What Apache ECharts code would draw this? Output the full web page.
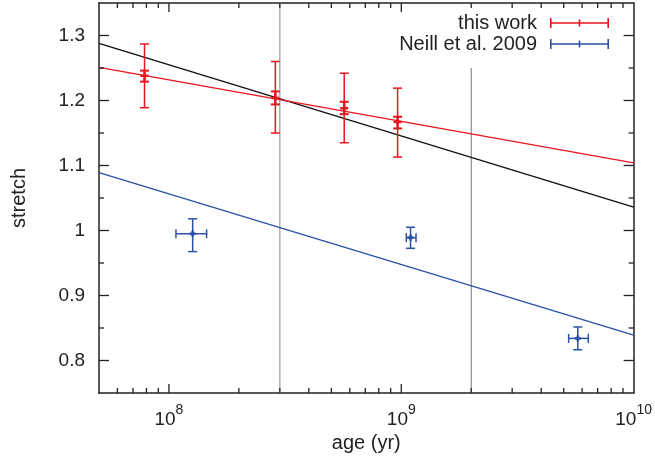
<!DOCTYPE html>
<html><head><meta charset="utf-8">
<script src="https://cdn.jsdelivr.net/npm/echarts@6/dist/echarts.min.js"></script>
<style>html,body{margin:0;padding:0;background:#fff}#c{width:655px;height:459px}</style>
</head><body><div id="c"></div>
<script>
// ---- data ----
const fitAges = [5e7, 1e10];
const fitBlack = [1.288, 1.036];
const fitRed = [1.251, 1.104];
const fitBlue = [1.089, 0.839];
const refAges = [3e8, 2e9];
const refBottom = [0.75, 0.75];
const refTop = [1.35, 1.25];
// this work
const workAge = [7.85e7, 2.87e8, 5.68e8, 9.64e8];
const workStretch = [1.238, 1.204, 1.188, 1.167];
const workBigLo = [1.189, 1.150, 1.135, 1.113];
const workBigHi = [1.287, 1.260, 1.242, 1.219];
const workSmallLo = [1.229, 1.194, 1.179, 1.157];
const workSmallHi = [1.246, 1.214, 1.198, 1.175];
// Neill et al. 2009
const neillAge = [1.265e8, 1.096e9, 5.75e9];
const neillAgeLo = [1.072e8, 1.051e9, 5.25e9];
const neillAgeHi = [1.452e8, 1.157e9, 6.38e9];
const neillStretch = [0.995, 0.989, 0.834];
const neillLo = [0.9675, 0.9726, 0.8165];
const neillHi = [1.018, 1.005, 0.8516];
// ticks
const xMajorTicks = [1e8, 1e9];
const xMinorTicks = [6e7, 7e7, 8e7, 9e7, 2e8, 3e8, 4e8, 5e8, 6e8, 7e8, 8e8, 9e8, 2e9, 3e9, 4e9, 5e9, 6e9, 7e9, 8e9, 9e9];
const xLabelTicks = [1e8, 1e9, 1e10];
const yMajorTicks = [0.8, 0.9, 1.0, 1.1, 1.2, 1.3];
const yMinorTicks = [0.85, 0.95, 1.05, 1.15, 1.25];

const X_MIN = 5e7, X_MAX = 1e10, Y_MIN = 0.75, Y_MAX = 1.35;
const RED = '#e8161d', BLUE = '#2c50a4', TXT = '#222';
const FONT = 'Liberation Sans';

const chart = echarts.init(document.getElementById('c'), null, {renderer: 'canvas'});

function pair(xs, ys) { return xs.map((x, i) => [x, ys[i]]); }

const workData = workAge.map((a, i) => [a, workStretch[i], workBigLo[i], workBigHi[i], workSmallLo[i], workSmallHi[i]]);
const neillData = neillAge.map((a, i) => [a, neillStretch[i], neillAgeLo[i], neillAgeHi[i], neillLo[i], neillHi[i]]);

function seg(x1, y1, x2, y2, stroke, w) {
  return {type: 'line', shape: {x1, y1, x2, y2}, style: {stroke, lineWidth: w}};
}

const xTickData = xMajorTicks.map(v => [v, 9]).concat(xMinorTicks.map(v => [v, 5]));
const yTickData = yMajorTicks.map(v => [v, 10]).concat(yMinorTicks.map(v => [v, 5]));

const legendIcon = 'path://M0,4.2h59v1.6h-59z M0,0h1.6v10h-1.6z M57.4,0h1.6v10h-1.6z M28.7,1.5h1.6v7h-1.6z';

const option = {
  animation: false,
  backgroundColor: '#fff',
  textStyle: {fontFamily: FONT},
  grid: {left: 99, right: 21, top: 3, bottom: 66},
  legend: {
    show: true, orient: 'vertical', right: 46, top: 13, align: 'right', padding: 0,
    itemWidth: 59, itemHeight: 10, itemGap: 1, selectedMode: false,
    textStyle: {fontSize: 20, color: TXT, fontFamily: FONT, lineHeight: 19, padding: [0, 8, 0, 0]},
    data: [
      {name: 'this work', icon: legendIcon, itemStyle: {color: RED, borderWidth: 0}},
      {name: 'Neill et al. 2009', icon: legendIcon, itemStyle: {color: BLUE, borderWidth: 0}}
    ]
  },
  xAxis: [{
    type: 'log', logBase: 10, min: X_MIN, max: X_MAX, position: 'bottom',
    axisLine: {show: true, lineStyle: {color: TXT, width: 1.5}},
    axisTick: {show: false}, splitLine: {show: false}, minorTick: {show: false},
    axisLabel: {
      show: true, margin: 10, hideOverlap: false, showMinLabel: false, showMaxLabel: true,
      formatter: function (v) {
        const e = Math.round(Math.log10(v));
        if (Math.abs(v / Math.pow(10, e) - 1) > 1e-6) return '';
        if (!xLabelTicks.some(t => Math.abs(t / v - 1) < 1e-6)) return '';
        return '{b|10}{s|' + e + '}';
      },
      rich: {
        b: {fontSize: 19, lineHeight: 26, verticalAlign: 'bottom', color: TXT, fontFamily: FONT},
        s: {fontSize: 14, lineHeight: 13, verticalAlign: 'top', color: TXT, fontFamily: FONT}
      }
    },
    name: 'age (yr)', nameLocation: 'middle', nameGap: 38,
    nameTextStyle: {fontSize: 20, color: TXT, fontFamily: FONT}
  }, {
    type: 'log', logBase: 10, min: X_MIN, max: X_MAX, position: 'top',
    axisLine: {show: true, lineStyle: {color: TXT, width: 1.5}},
    axisTick: {show: false}, splitLine: {show: false}, axisLabel: {show: false}
  }],
  yAxis: [{
    type: 'value', min: Y_MIN, max: Y_MAX, interval: 0.05, position: 'left',
    axisLine: {show: true, lineStyle: {color: TXT, width: 1.5}},
    axisTick: {show: false}, splitLine: {show: false},
    axisLabel: {
      show: true, margin: 14, fontSize: 19, color: TXT, fontFamily: FONT,
      formatter: function (v) {
        const t = Math.round(v * 10) / 10;
        if (!yMajorTicks.some(m => Math.abs(m - v) < 1e-6)) return '';
        return String(t);
      }
    },
    name: 'stretch', nameLocation: 'middle', nameGap: 70,
    nameTextStyle: {fontSize: 20, color: TXT, fontFamily: FONT}
  }, {
    type: 'value', min: Y_MIN, max: Y_MAX, interval: 0.05, position: 'right',
    axisLine: {show: true, lineStyle: {color: TXT, width: 1.5}},
    axisTick: {show: false}, splitLine: {show: false}, axisLabel: {show: false}
  }],
  series: [
    {type: 'line', silent: true, symbol: 'none', z: 1, data: [[refAges[0], refBottom[0]], [refAges[0], refTop[0]]], lineStyle: {color: '#b0b0b0', width: 1.5}},
    {type: 'line', silent: true, symbol: 'none', z: 1, data: [[refAges[1], refBottom[1]], [refAges[1], refTop[1]]], lineStyle: {color: '#777', width: 1}},
    {type: 'line', silent: true, symbol: 'none', z: 2, data: pair(fitAges, fitBlack), lineStyle: {color: '#111', width: 1.4}},
    {type: 'line', silent: true, symbol: 'none', z: 2, data: pair(fitAges, fitRed), lineStyle: {color: RED, width: 1.4}},
    {type: 'line', silent: true, symbol: 'none', z: 2, data: pair(fitAges, fitBlue), lineStyle: {color: BLUE, width: 1.4}},
    {
      name: 'this work', type: 'custom', z: 3, itemStyle: {color: RED},
      encode: {x: 0, y: 1}, data: workData,
      renderItem: function (params, api) {
        const x = api.value(0);
        const c = api.coord([x, api.value(1)]);
        const bl = api.coord([x, api.value(2)]), bh = api.coord([x, api.value(3)]);
        const sl = api.coord([x, api.value(4)]), sh = api.coord([x, api.value(5)]);
        const w = 4.5, lw = 1.5;
        return {type: 'group', children: [
          seg(c[0], bl[1], c[0], bh[1], RED, lw),
          seg(c[0] - w, bl[1], c[0] + w, bl[1], RED, lw),
          seg(c[0] - w, bh[1], c[0] + w, bh[1], RED, lw),
          seg(c[0] - w, sl[1], c[0] + w, sl[1], RED, 2),
          seg(c[0] - w, sh[1], c[0] + w, sh[1], RED, 2),
          seg(c[0] - 4, c[1], c[0] + 4, c[1], RED, 2.5),
          seg(c[0], sl[1], c[0], sh[1], RED, 2.5)
        ]};
      }
    },
    {
      name: 'Neill et al. 2009', type: 'custom', z: 3, itemStyle: {color: BLUE},
      encode: {x: 0, y: 1}, data: neillData,
      renderItem: function (params, api) {
        const x = api.value(0), y = api.value(1);
        const c = api.coord([x, y]);
        const xl = api.coord([api.value(2), y]), xh = api.coord([api.value(3), y]);
        const yl = api.coord([x, api.value(4)]), yh = api.coord([x, api.value(5)]);
        const w = 4.5, lw = 1.5;
        return {type: 'group', children: [
          seg(xl[0], c[1], xh[0], c[1], BLUE, lw),
          seg(xl[0], c[1] - w, xl[0], c[1] + w, BLUE, lw),
          seg(xh[0], c[1] - w, xh[0], c[1] + w, BLUE, lw),
          seg(c[0], yl[1], c[0], yh[1], BLUE, lw),
          seg(c[0] - w, yl[1], c[0] + w, yl[1], BLUE, lw),
          seg(c[0] - w, yh[1], c[0] + w, yh[1], BLUE, lw),
          seg(c[0] - 3, c[1], c[0] + 3, c[1], BLUE, 2.5),
          seg(c[0], c[1] - 3, c[0], c[1] + 3, BLUE, 2.5)
        ]};
      }
    },
    {
      type: 'custom', silent: true, z: 5, encode: {x: 0}, data: xTickData,
      renderItem: function (params, api) {
        const v = api.value(0), len = api.value(1);
        const b = api.coord([v, Y_MIN]), t = api.coord([v, Y_MAX]);
        return {type: 'group', children: [
          seg(b[0], b[1], b[0], b[1] - len, TXT, 1.3),
          seg(t[0], t[1], t[0], t[1] + len, TXT, 1.3)
        ]};
      }
    },
    {
      type: 'custom', silent: true, z: 5, encode: {y: 0}, data: yTickData,
      renderItem: function (params, api) {
        const v = api.value(0), len = api.value(1);
        const l = api.coord([X_MIN, v]), r = api.coord([X_MAX, v]);
        return {type: 'group', children: [
          seg(l[0], l[1], l[0] + len, l[1], TXT, 1.3),
          seg(r[0], r[1], r[0] - len, r[1], TXT, 1.3)
        ]};
      }
    }
  ]
};
chart.setOption(option);
</script></body></html>
